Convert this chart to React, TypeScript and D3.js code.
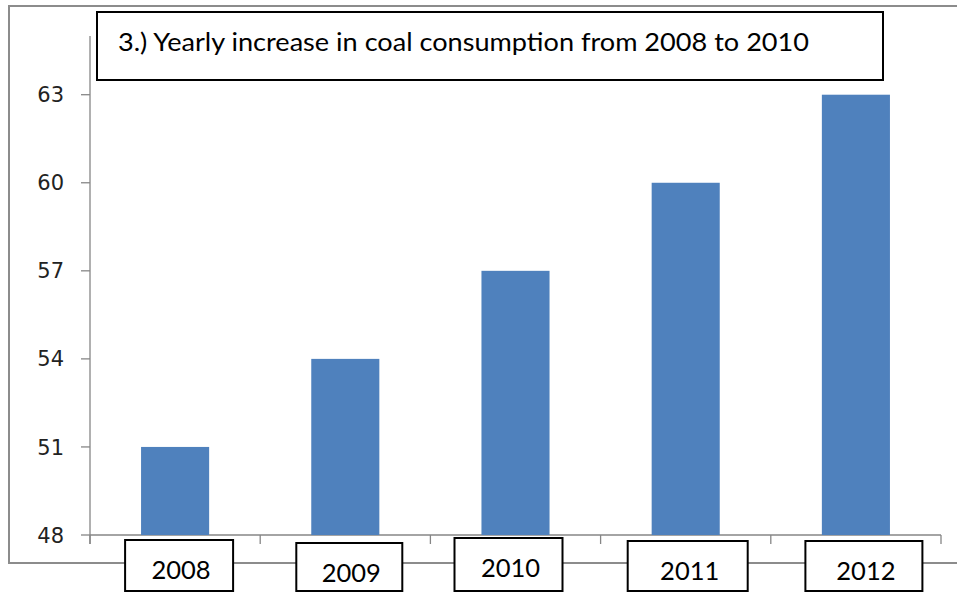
import React from "react";
import * as d3 from "d3";

const categories = ["2008", "2009", "2010", "2011", "2012"];
const values = [51, 54, 57, 60, 63];
const yTicks = [48, 51, 54, 57, 60, 63];
const title = "3.) Yearly increase in coal consumption from 2008 to 2010";
// label box tweaks (offset from band centre, width, top offset)
const boxDx = [4, 4, -7, 2, 8];
const boxW = [108, 106, 108, 120, 117];
const boxDy = [5, 8, 3, 6, 6];

const W = 957, H = 592;
const plot = { left: 90, right: 941, top: 36, bottom: 535 };

export default function App() {
  const x = d3.scaleBand<string>().domain(categories).range([plot.left, plot.right]).paddingInner(0.6).paddingOuter(0.3);
  const xb = d3.scaleBand<string>().domain(categories).range([plot.left, plot.right]);
  const y = d3.scaleLinear().domain([48, 65]).range([plot.bottom, plot.top]);
  const axisColor = "#868686";
  const bounds = [...categories.map((c) => xb(c)!), plot.right];
  return (
    <svg width={W} height={H} style={{ position: "absolute", left: 0, top: 0, background: "#fff" }}>
      {/* outer frame */}
      <rect x={9} y={6} width={1000} height={557} fill="none" stroke="#8c8c8c" strokeWidth={2} />
      {/* y axis */}
      <line x1={plot.left} x2={plot.left} y1={plot.top} y2={plot.bottom + 9} stroke={axisColor} strokeWidth={1.3} />
      {yTicks.map((t) => (
        <g key={t}>
          <line x1={plot.left - 9} x2={plot.left} y1={y(t)} y2={y(t)} stroke={axisColor} strokeWidth={1.3} />
          <text x={plot.left - 26} y={y(t)} dy="0.36em" textAnchor="end" fontFamily="DejaVu Sans" fontSize={21} fill="#222">
            {t}
          </text>
        </g>
      ))}
      {/* x axis */}
      <line x1={plot.left} x2={plot.right} y1={plot.bottom} y2={plot.bottom} stroke={axisColor} strokeWidth={1.3} />
      {bounds.map((b, i) => (
        <line key={i} x1={b} x2={b} y1={plot.bottom} y2={plot.bottom + 9} stroke={axisColor} strokeWidth={1.3} />
      ))}
      {/* bars */}
      {categories.map((c, i) => (
        <rect key={c} x={x(c)} y={y(values[i])} width={x.bandwidth()} height={plot.bottom - y(values[i])} fill="#4F81BD" />
      ))}
      {/* label boxes */}
      {categories.map((c, i) => {
        const cx = xb(c)! + xb.bandwidth() / 2 + boxDx[i];
        const top = plot.bottom + boxDy[i];
        return (
          <g key={c}>
            <rect x={cx - boxW[i] / 2} y={top} width={boxW[i]} height={H - top - 1} fill="#fff" stroke="#000" strokeWidth={2} />
            <text x={cx + 2} y={top + 38.5} textAnchor="middle" fontFamily="Lato" fontSize={25.5} fill="#000">
              {c}
            </text>
          </g>
        );
      })}
      {/* title box */}
      <rect x={97} y={12} width={786} height={68} fill="#fff" stroke="#000" strokeWidth={2} />
      <text x={118} y={51} fontFamily="Lato" fontSize={25} fill="#000" textLength={691} lengthAdjust="spacingAndGlyphs">
        {title}
      </text>
    </svg>
  );
}
